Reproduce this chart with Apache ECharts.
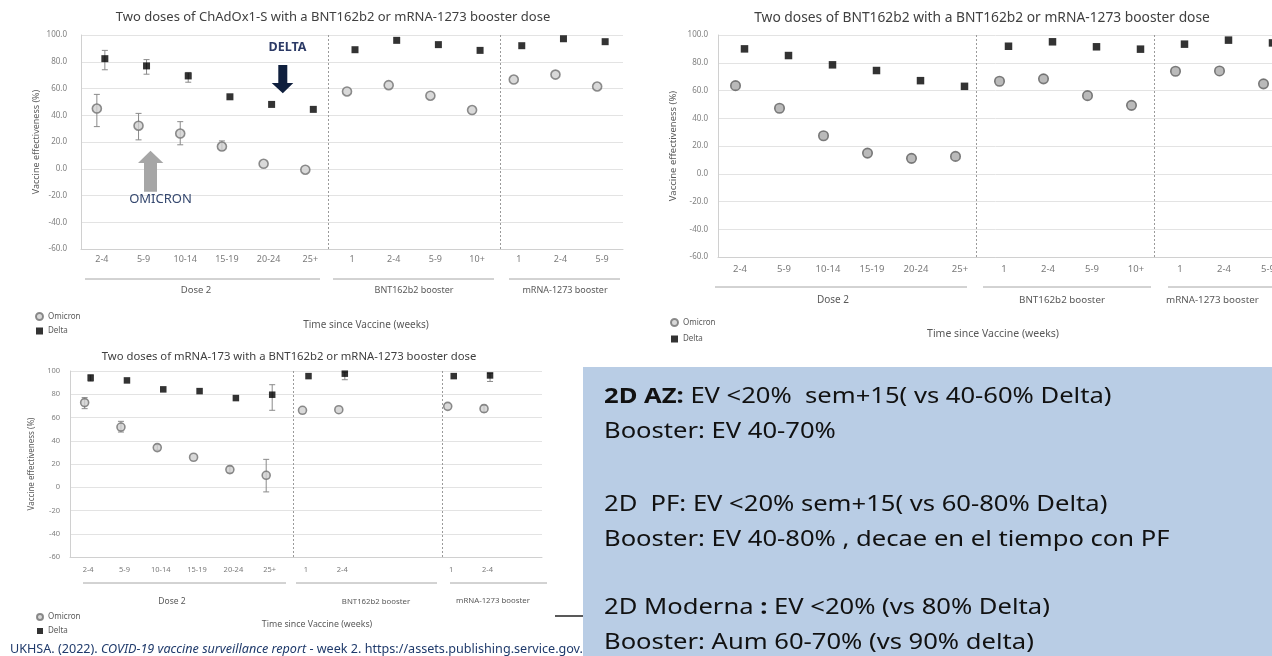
<!DOCTYPE html>
<html>
<head>
<meta charset="utf-8">
<script src="https://cdn.jsdelivr.net/npm/echarts@6/dist/echarts.min.js"></script>
<style>html,body{margin:0;padding:0;background:#fff;}#c{width:1272px;height:656px;}</style>
</head>
<body>
<div id="c"></div>
<script>
// ---------- data ----------
const timeLabelsTop = ['2-4','5-9','10-14','15-19','20-24','25+','1','2-4','5-9','10+','1','2-4','5-9'];
const timeLabelsBottom = ['2-4','5-9','10-14','15-19','20-24','25+','1','2-4','','','1','2-4',''];
const groupLabels = ['Dose 2','BNT162b2 booster','mRNA-1273 booster'];
const chartTitles = [
  'Two doses of ChAdOx1-S with a BNT162b2 or mRNA-1273 booster dose',
  'Two doses of BNT162b2 with a BNT162b2 or mRNA-1273 booster dose',
  'Two doses of mRNA-173 with a BNT162b2 or mRNA-1273 booster dose'
];

// ChAdOx1-S (AZ)
const azOmicron     = [45.0, 32.2, 26.3, 16.6, 3.7, -0.7, 57.8, 62.5, 54.6, 43.9, 66.7, 70.4, 61.5];
const azOmicronLow  = [31.5, 21.6, 17.9, 14.0, null, null, null, null, null, null, null, null, null];
const azOmicronHigh = [55.6, 41.4, 35.2, 20.8, null, null, null, null, null, null, null, null, null];
const azDelta       = [82.3, 76.9, 69.4, 53.8, 48.1, 44.4, 89.0, 96.0, 92.8, 88.5, 92.0, 97.2, 95.0];
const azDeltaLow    = [74.0, 70.7, 64.7, null, null, null, null, null, null, null, null, null, null];
const azDeltaHigh   = [88.5, 81.6, 72.0, null, null, null, null, null, null, null, null, null, null];

// BNT162b2 (PF)
const pfOmicron = [63.5, 47.2, 27.4, 14.9, 11.1, 12.5, 66.7, 68.4, 56.3, 49.3, 73.9, 74.1, 64.8];
const pfDelta   = [90.0, 85.2, 78.5, 74.4, 67.1, 63.0, 91.9, 95.1, 91.5, 89.8, 93.4, 96.3, 94.3];

// mRNA-1273 (Moderna)
const mdOmicron     = [72.8, 51.8, 34.1, 25.8, 15.2, 10.3, 66.2, 66.7, null, null, 69.6, 67.6, null];
const mdOmicronLow  = [67.6, 47.5, 32.0, null, 12.5, -4.0, null, null, null, null, null, 64.8, null];
const mdOmicronHigh = [77.1, 56.7, 36.5, null, 18.0, 24.0, null, null, null, null, null, 70.5, null];
const mdDelta       = [94.2, 91.9, 84.2, 82.7, 76.7, 79.6, 95.6, 97.7, null, null, 95.6, 96.2, null];
const mdDeltaLow    = [91.0, null, null, null, null, 66.2, null, 92.5, null, null, null, 91.0, null];
const mdDeltaHigh   = [96.8, null, null, null, null, 88.2, null, 99.0, null, null, null, 98.0, null];

const boxLines = [
  '{b|2D AZ:} EV <20%  sem+15( vs 40-60% Delta)',
  'Booster: EV 40-70%',
  '2D  PF: EV <20% sem+15( vs 60-80% Delta)',
  'Booster: EV 40-80% , decae en el tiempo con PF',
  '2D Moderna {b|:} EV <20% (vs 80% Delta)',
  'Booster: Aum 60-70% (vs 90% delta)'
];

// ---------- helpers ----------
const FONT = 'Noto Sans';
const idx = timeLabelsTop.map((_, i) => String(i));
function pts(arr) { return arr.map((v, i) => v == null ? null : [i, v]).filter(p => p); }
function errs(lo, hi) { const r = []; lo.forEach((v, i) => { if (v != null && hi[i] != null) r.push([i, v, hi[i]]); }); return r; }
function errRender(offset, cap) {
  return function (params, api) {
    const x = api.value(0);
    const p1 = api.coord([x, api.value(2)]);
    const p2 = api.coord([x, api.value(1)]);
    const cx = p1[0] + offset;
    const st = { stroke: '#8a8a8a', lineWidth: 1 };
    return { type: 'group', children: [
      { type: 'line', shape: { x1: cx, y1: p1[1], x2: cx, y2: p2[1] }, style: st },
      { type: 'line', shape: { x1: cx - cap, y1: p1[1], x2: cx + cap, y2: p1[1] }, style: st },
      { type: 'line', shape: { x1: cx - cap, y1: p2[1], x2: cx + cap, y2: p2[1] }, style: st }
    ] };
  };
}
const omiStyleLight = { color: '#cfcfcf', borderColor: '#707070', borderWidth: 1.6 };
const omiStyleDark = { color: '#a9a9a9', borderColor: '#5e5e5e', borderWidth: 1.6 };
const delStyle = { color: '#000' };

const gridsCfg = [
  { left: 81, top: 35, width: 542, height: 214, labels: timeLabelsTop, lblSize: 9, ySize: 8, yFmt: v => v.toFixed(1), yMargin: 14, xMargin: 6, nameSize: 9, nameGap: 40, oOff: -5, dOff: 3, oSize: 9, dSize: 7, oStyle: omiStyleLight, seps: [5.43, 9.55] },
  { left: 718, top: 35, width: 572, height: 222, labels: timeLabelsTop, lblSize: 9.5, ySize: 8, yFmt: v => v.toFixed(1), yMargin: 10, xMargin: 7, nameSize: 9.5, nameGap: 40, oOff: -4.5, dOff: 4.5, oSize: 9.5, dSize: 7.5, oStyle: omiStyleDark, seps: [5.37, 9.42] },
  { left: 70, top: 371, width: 472, height: 186, labels: timeLabelsBottom, lblSize: 7.5, ySize: 7.5, yFmt: v => String(v), yMargin: 10, xMargin: 9, nameSize: 8, nameGap: 34, oOff: -3.5, dOff: 2.5, oSize: 8, dSize: 6.5, oStyle: omiStyleLight, seps: [5.65, 9.76] }
];

const grid = [], xAxis = [], yAxis = [], series = [];
gridsCfg.forEach((g, k) => {
  grid.push({ left: g.left, top: g.top, width: g.width, height: g.height, outerBoundsMode: 'none', containLabel: false });
  xAxis.push({
    type: 'category', gridIndex: k, data: idx, boundaryGap: true,
    axisTick: { show: false },
    axisLine: { onZero: false, lineStyle: { color: '#d0d0d0' } },
    axisLabel: { interval: 0, margin: g.xMargin, fontSize: g.lblSize, color: '#7a7a7a', fontFamily: FONT, formatter: (v, i) => g.labels[i] },
    splitLine: { show: false }
  });
  yAxis.push({
    type: 'value', gridIndex: k, min: -60, max: 100, interval: 20,
    name: 'Vaccine effectiveness (%)', nameLocation: 'middle', nameGap: g.nameGap,
    nameTextStyle: { fontSize: g.nameSize, color: '#595959', fontFamily: FONT },
    axisLine: { show: true, onZero: false, lineStyle: { color: '#d0d0d0' } },
    axisTick: { show: false },
    axisLabel: { fontSize: g.ySize, color: '#808080', margin: g.yMargin, fontFamily: FONT, formatter: g.yFmt },
    splitLine: { lineStyle: { color: '#e3e3e3' } }
  });
});
gridsCfg.forEach((g, k) => {
  xAxis.push({ type: 'value', gridIndex: k, min: -0.5, max: 12.5, show: false });
});

const sets = [
  { o: azOmicron, d: azDelta, oe: errs(azOmicronLow, azOmicronHigh), de: errs(azDeltaLow, azDeltaHigh) },
  { o: pfOmicron, d: pfDelta, oe: [], de: [] },
  { o: mdOmicron, d: mdDelta, oe: errs(mdOmicronLow, mdOmicronHigh), de: errs(mdDeltaLow, mdDeltaHigh) }
];
sets.forEach((s, k) => {
  const g = gridsCfg[k];
  series.push({ type: 'custom', name: 'errO' + k, xAxisIndex: k, yAxisIndex: k, data: s.oe, encode: { x: 0, y: [1, 2] }, renderItem: errRender(g.oOff, 3), z: 2, silent: true });
  series.push({ type: 'custom', name: 'errD' + k, xAxisIndex: k, yAxisIndex: k, data: s.de, encode: { x: 0, y: [1, 2] }, renderItem: errRender(g.dOff, 3), z: 2, silent: true });
  series.push({ type: 'scatter', name: 'Omicron', xAxisIndex: k, yAxisIndex: k, data: pts(s.o), symbol: 'circle', symbolSize: g.oSize, symbolOffset: [g.oOff, 0], itemStyle: g.oStyle, z: 4 });
  series.push({ type: 'scatter', name: 'Delta', xAxisIndex: k, yAxisIndex: k, data: pts(s.d), symbol: 'rect', symbolSize: g.dSize, symbolOffset: [g.dOff, 0], itemStyle: delStyle, z: 4 });
  series.push({
    type: 'line', name: 'sep' + k, xAxisIndex: 3 + k, yAxisIndex: k, data: [[-0.5, -60]], symbol: 'none', silent: true, lineStyle: { opacity: 0 },
    markLine: { silent: true, symbol: 'none', label: { show: false }, lineStyle: { type: [2, 2], color: '#9a9a9a', width: 1 }, data: g.seps.map(v => ({ xAxis: v })) }
  });
});

function legendAt(left, top, size, gap) {
  return { orient: 'vertical', left, top, itemWidth: size, itemHeight: size, itemGap: gap, selectedMode: false,
    textStyle: { fontSize: 8, color: '#595959', fontFamily: FONT },
    data: [{ name: 'Omicron', icon: 'circle' }, { name: 'Delta', icon: 'rect' }] };
}

function txt(text, x, y, size, opts) {
  opts = opts || {};
  return { type: 'text', x, y, z: opts.z || 10, style: Object.assign({
    text, fontSize: size, fontFamily: FONT, fill: opts.fill || '#595959', fontWeight: opts.weight || 'normal',
    align: opts.align || 'center', textAlign: opts.align || 'center', verticalAlign: 'middle', textVerticalAlign: 'middle'
  }, opts.extra || {}) };
}
function hline(x1, x2, y, color, w, z) {
  return { type: 'line', z: z || 10, shape: { x1, y1: y, x2, y2: y }, style: { stroke: color || '#a6a6a6', lineWidth: w || 1 } };
}

const graphic = [
  // titles
  txt(chartTitles[0], 333, 17, 13, { fill: '#404040' }),
  txt(chartTitles[1], 982, 18, 13.8, { fill: '#404040' }),
  txt(chartTitles[2], 289, 357, 11.3, { fill: '#404040' }),
  // group lines & labels top-left
  hline(85, 320, 279), hline(333, 494, 279), hline(509, 620, 279),
  txt(groupLabels[0], 196, 290.5, 9.5), txt(groupLabels[1], 414, 290.5, 9), txt(groupLabels[2], 565, 290.5, 9),
  txt('Time since Vaccine (weeks)', 366, 325, 10),
  // top-right
  hline(715, 967, 287), hline(983, 1151, 287), hline(1168, 1290, 287),
  txt(groupLabels[0], 833, 300, 10), txt(groupLabels[1], 1062, 300, 9.8), txt(groupLabels[2], 1166, 300, 9.8, { align: 'left' }),
  txt('Time since Vaccine (weeks)', 993, 334, 10.5),
  // bottom
  hline(83, 286, 583), hline(296, 437, 583), hline(450, 547, 583),
  txt(groupLabels[0], 172, 601.5, 8.5), txt(groupLabels[1], 376, 602, 7.8), txt(groupLabels[2], 493, 601, 7.8),
  txt('Time since Vaccine (weeks)', 317, 624, 8.8),
  // annotations
  txt('DELTA', 287.5, 47, 12.5, { fill: '#2c3a66', weight: 'bold' }),
  { type: 'polygon', z: 10, shape: { points: [[278.3, 65], [287.3, 65], [287.3, 83], [293.3, 83], [282.8, 93.3], [271.7, 83], [278.3, 83]] }, style: { fill: '#0f1f3d' } },
  txt('OMICRON', 160.5, 199, 13, { fill: '#34476e' }),
  { type: 'polygon', z: 10, shape: { points: [[144, 191.7], [157, 191.7], [157, 163], [163.3, 163], [150.5, 150.7], [138, 163], [144, 163]] }, style: { fill: '#a6a6a6' } },
  // footer
  { type: 'text', x: 10, y: 649, z: 10, style: {
    text: '{n|UKHSA. (2022).} {i|COVID-19 vaccine surveillance report} {n|- week 2. https://assets.publishing.service.gov.uk}',
    verticalAlign: 'middle', textVerticalAlign: 'middle', fontFamily: FONT, fontSize: 12.6,
    rich: { n: { fill: '#1f3a6b', fontSize: 12.6, fontFamily: FONT }, i: { fill: '#1f3a6b', fontSize: 12.6, fontFamily: FONT, fontStyle: 'italic' } }
  } },
  hline(555, 584, 616, '#222', 1.5, 10),
  // text box
  { type: 'rect', z: 20, shape: { x: 583, y: 367, width: 700, height: 300 }, style: { fill: '#b9cde5' } }
];
const boxY = [397, 432, 505, 540, 608, 643];
boxLines.forEach((t, i) => {
  graphic.push({ type: 'text', x: 604, y: boxY[i], z: 21, scaleX: 1.19, scaleY: 1, style: {
    text: t, fontFamily: FONT, fontSize: 21.5, fill: '#111', align: 'left', textAlign: 'left', verticalAlign: 'middle', textVerticalAlign: 'middle',
    rich: { b: { fontWeight: 'bold', fontFamily: FONT, fontSize: 21.5, fill: '#111' } }
  } });
});

const chart = echarts.init(document.getElementById('c'), null, { renderer: 'canvas' });
chart.setOption({
  backgroundColor: '#ffffff',
  animation: false,
  textStyle: { fontFamily: FONT },
  grid, xAxis, yAxis, series,
  legend: [legendAt(30, 307, 7, 6), legendAt(665, 313, 7, 8), legendAt(31, 608, 6, 6)],
  graphic
});
</script>
</body>
</html>
